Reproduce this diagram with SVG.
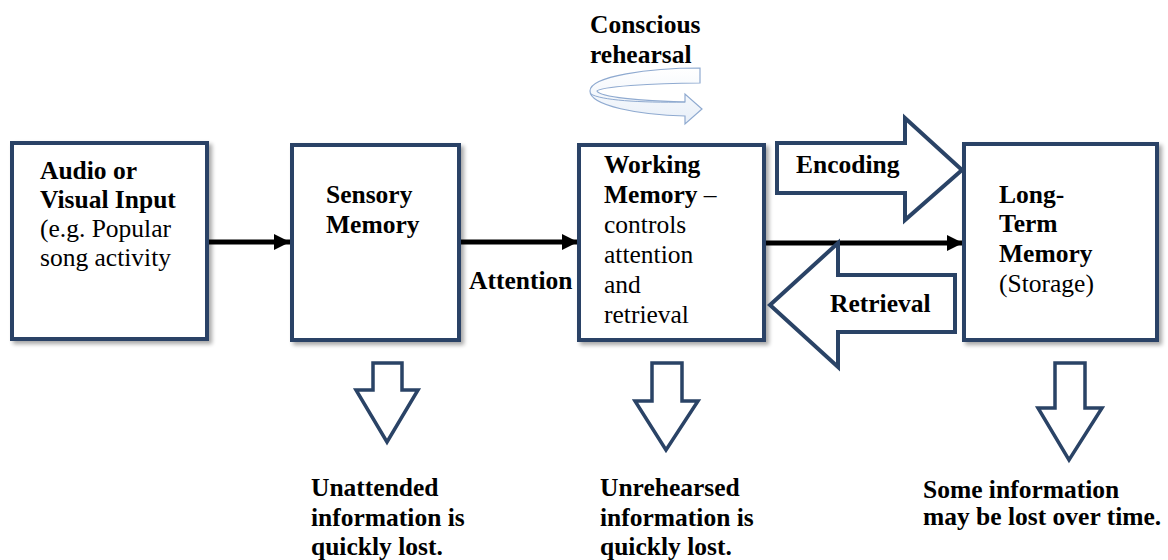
<svg xmlns="http://www.w3.org/2000/svg" width="1168" height="560" viewBox="0 0 1168 560">
<style>
  text { font-family: 'Liberation Serif', 'DejaVu Serif', serif; font-size: 25.5px; fill: #000; }
  .b { font-weight: bold; }
  .box { fill: #fff; stroke: #2a4366; stroke-width: 4; }
  .blk { fill: #fff; stroke: #2a4366; stroke-width: 4; stroke-linejoin: miter; }
  .dn { fill: #fff; stroke: #2a4366; stroke-width: 3.5; stroke-linejoin: miter; }
  .line { stroke: #000; stroke-width: 5; fill: none; }
</style>
<defs>
  <filter id="sh" x="-10%" y="-10%" width="130%" height="130%">
    <feGaussianBlur in="SourceAlpha" stdDeviation="2"/>
    <feOffset dx="3" dy="3"/>
    <feComponentTransfer><feFuncA type="linear" slope="0.35"/></feComponentTransfer>
    <feMerge><feMergeNode/><feMergeNode in="SourceGraphic"/></feMerge>
  </filter>
  <marker id="ah" viewBox="0 0 10 10" refX="10" refY="5" markerWidth="3.4" markerHeight="3.2" orient="auto" markerUnits="strokeWidth">
    <path d="M0,0 L10,5 L0,10 Z" fill="#000"/>
  </marker>
  <linearGradient id="rg" x1="0" y1="0" x2="0" y2="1">
    <stop offset="0" stop-color="#ffffff"/>
    <stop offset="1" stop-color="#e8eff8"/>
  </linearGradient>
</defs>

<g font-family="Liberation Serif, DejaVu Serif, serif">
<g id="rehearsal">
  <path d="M700,68 C650,68 590,76 590,91 C590,106 640,115 685,116 L685,124 L702,109 L685,94 L685,102 C640,101 600,97 597,91 C600,87 650,83 700,83 Z" fill="url(#rg)" stroke="#8faad0" stroke-width="1.2"/>
  <path d="M591,94 C600,100 640,103 685,102" fill="none" stroke="#8faad0" stroke-width="1"/>
  <text class="b" x="590" y="33">Conscious</text>
  <text class="b" x="590" y="63">rehearsal</text>
</g>

<g id="connectors">
  <line class="line" x1="207" y1="242" x2="290" y2="242" marker-end="url(#ah)"/>
  <line class="line" x1="459" y1="242" x2="578" y2="242" marker-end="url(#ah)"/>
  <line class="line" x1="764" y1="243" x2="963" y2="243" marker-end="url(#ah)"/>
</g>

<g id="input">
  <rect class="box" x="12" y="143" width="195" height="196" filter="url(#sh)"/>
  <text class="b" x="40" y="179">Audio or</text>
  <text class="b" x="40" y="208">Visual Input</text>
  <text x="40" y="237">(e.g. Popular</text>
  <text x="40" y="266">song activity</text>
</g>

<g id="sensory">
  <rect class="box" x="292" y="145" width="167" height="195" filter="url(#sh)"/>
  <text class="b" x="326" y="203">Sensory</text>
  <text class="b" x="326" y="233">Memory</text>
</g>

<g id="attention-label">
  <text class="b" x="469" y="289">Attention</text>
</g>

<g id="working">
  <rect class="box" x="579" y="145" width="185" height="195" filter="url(#sh)"/>
  <text class="b" x="604" y="173">Working</text>
  <text class="b" x="604" y="203">Memory <tspan font-weight="normal">–</tspan></text>
  <text x="604" y="233">controls</text>
  <text x="604" y="263">attention</text>
  <text x="604" y="293">and</text>
  <text x="604" y="323">retrieval</text>
</g>

<g id="longterm">
  <rect class="box" x="964" y="144" width="193" height="196" filter="url(#sh)"/>
  <text class="b" x="999" y="203">Long-</text>
  <text class="b" x="999" y="232">Term</text>
  <text class="b" x="999" y="262">Memory</text>
  <text x="999" y="292">(Storage)</text>
</g>

<g id="encoding">
  <polygon class="blk" points="777,143 905,143 905,118 962,170 905,220 905,193 777,193"/>
  <text class="b" x="796" y="173">Encoding</text>
</g>

<g id="retrieval">
  <polygon class="blk" points="770,305 838,243 838,275 955,275 955,332 838,332 838,367"/>
  <text class="b" x="830" y="312">Retrieval</text>
</g>

<g id="loss-sensory">
  <polygon class="dn" points="373,363 402,363 402,390 418,390 387,442 356,390 373,390"/>
  <text class="b" x="311" y="496">Unattended</text>
  <text class="b" x="311" y="526">information is</text>
  <text class="b" x="311" y="555">quickly lost.</text>
</g>

<g id="loss-working">
  <polygon class="dn" points="652,363 682,363 682,401 698,401 666,450 635,401 652,401"/>
  <text class="b" x="600" y="496">Unrehearsed</text>
  <text class="b" x="600" y="526">information is</text>
  <text class="b" x="600" y="555">quickly lost.</text>
</g>

<g id="loss-longterm">
  <polygon class="dn" points="1055,363 1085,363 1085,408 1102,408 1069,460 1038,408 1055,408"/>
  <text class="b" x="923" y="498">Some information</text>
  <text class="b" x="923" y="525">may be lost over time.</text>
</g>
</g>
</svg>
